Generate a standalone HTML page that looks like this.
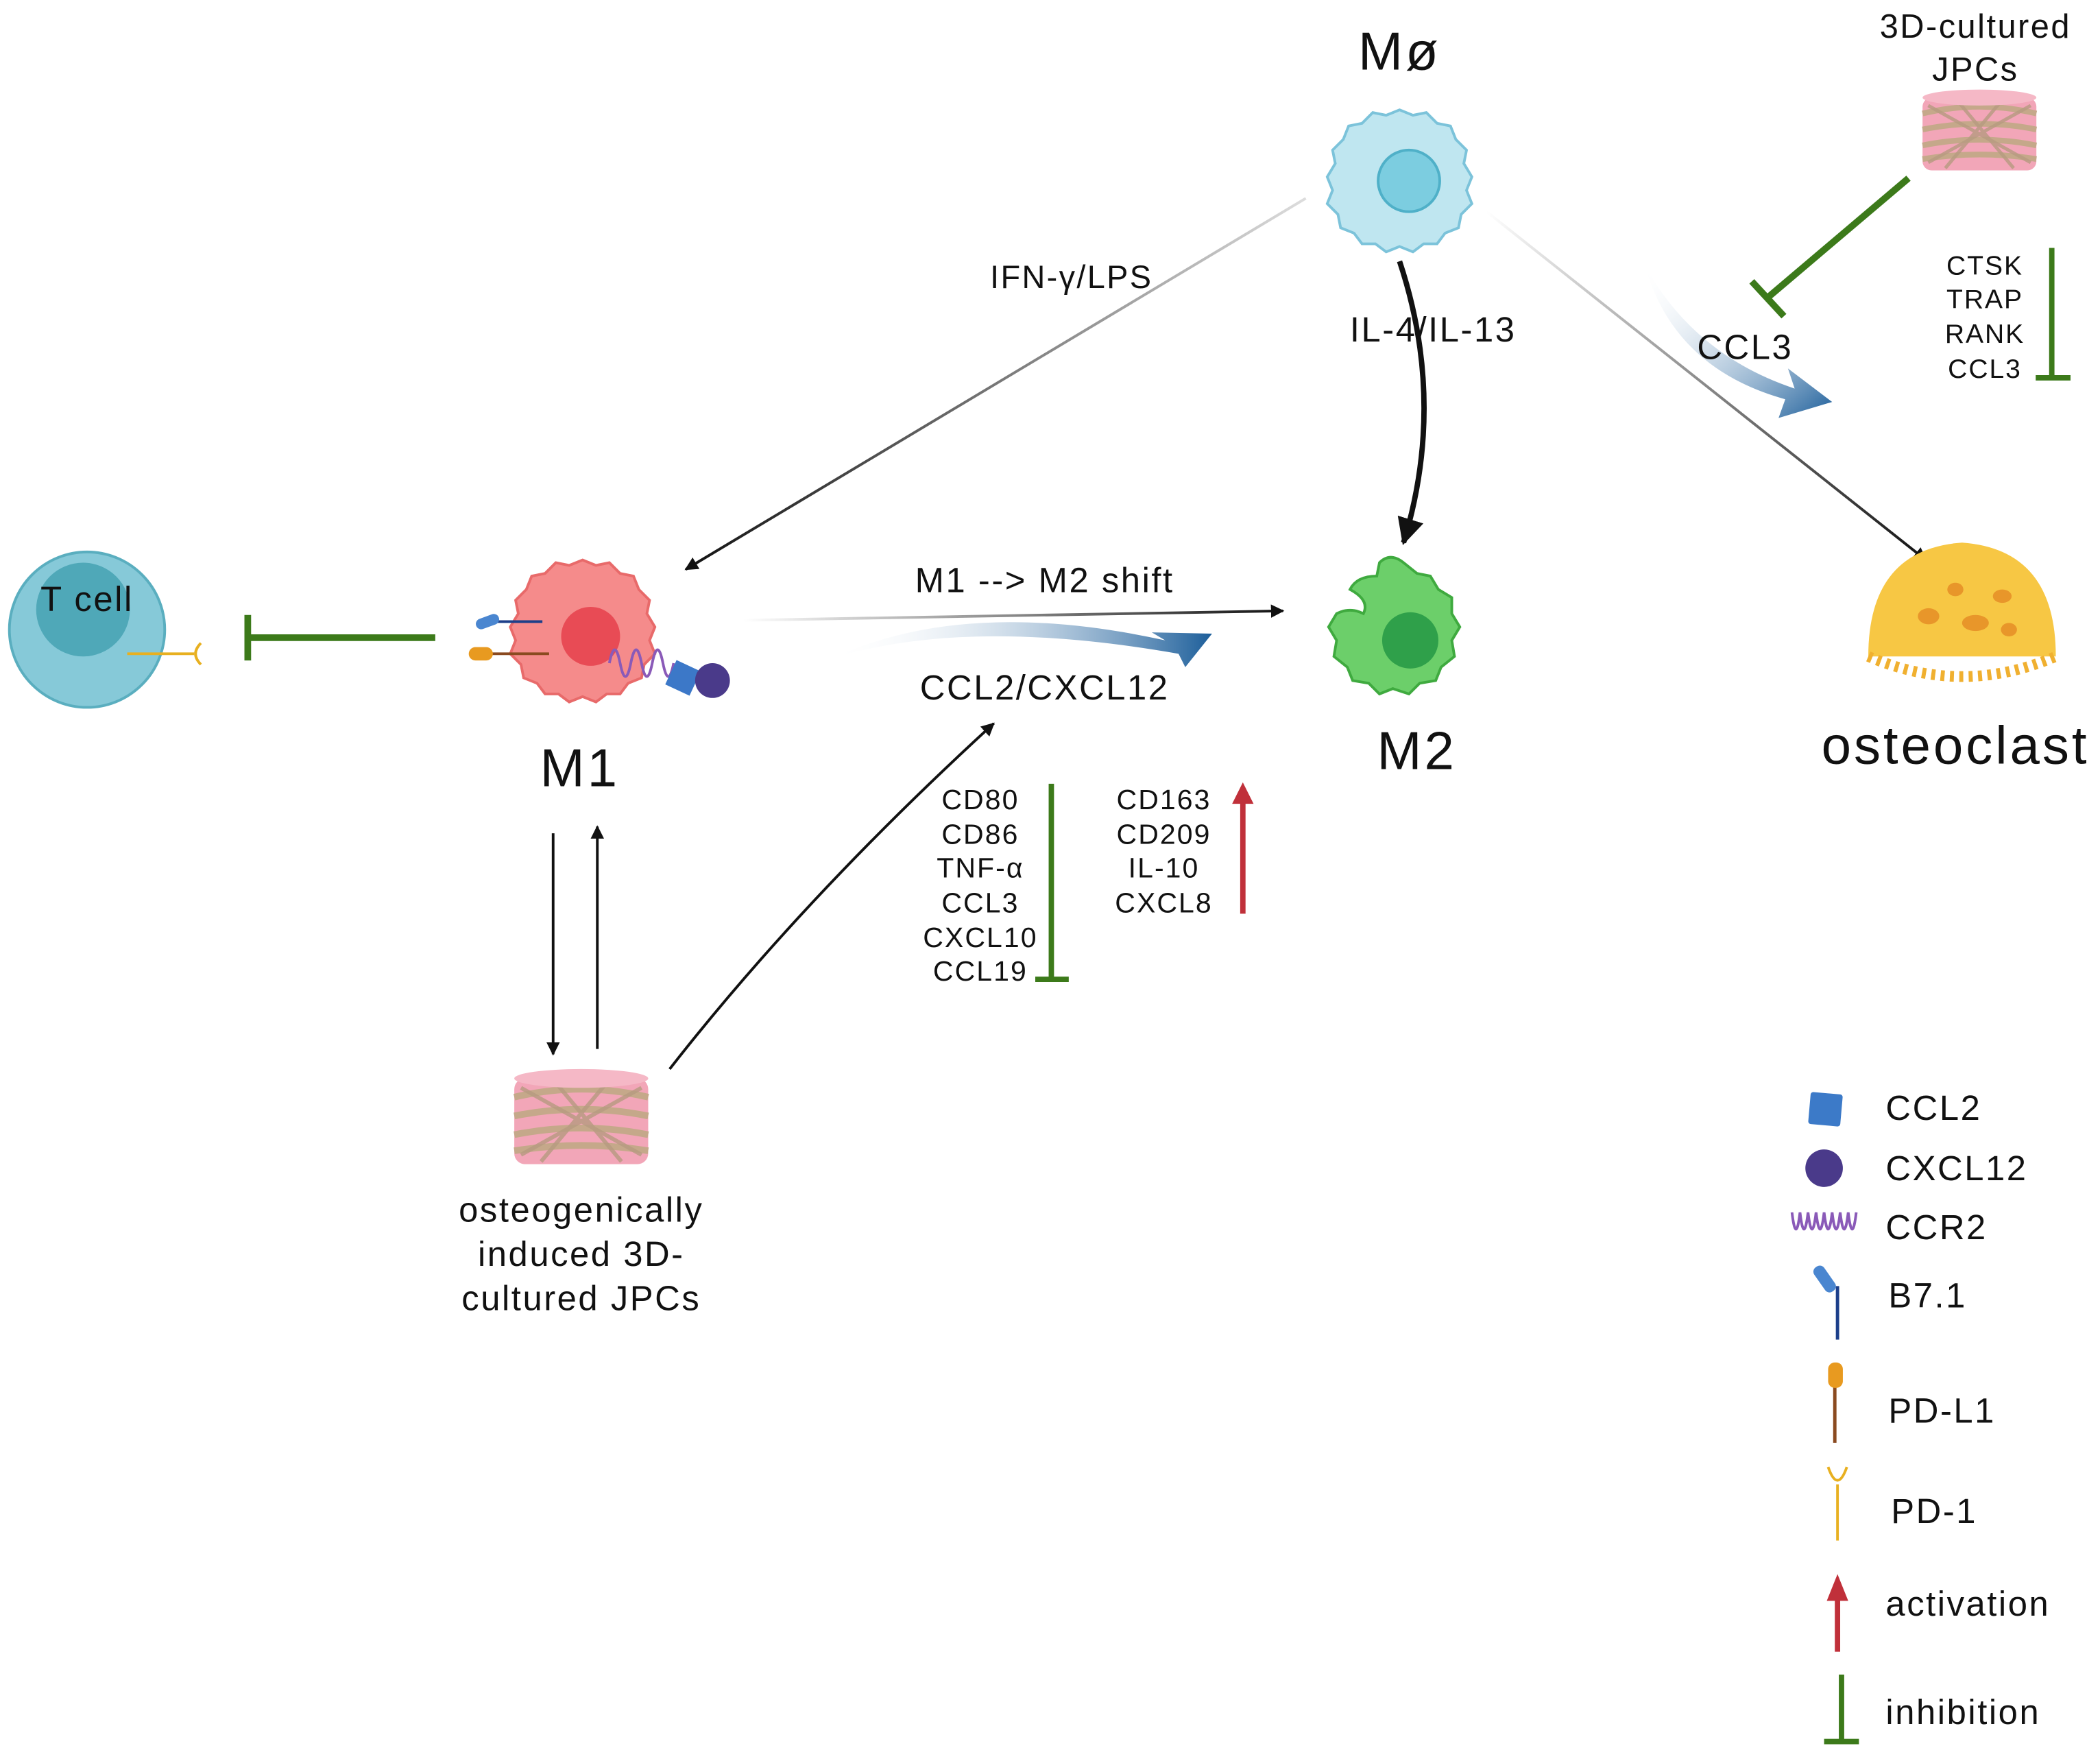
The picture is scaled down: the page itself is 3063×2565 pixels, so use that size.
<!DOCTYPE html>
<html><head><meta charset="utf-8"><style>
html,body{margin:0;padding:0;background:#fff;}
svg{display:block;}
text{font-family:"Liberation Sans",sans-serif;fill:#111;letter-spacing:0.05em;}
</style></head><body>
<svg width="3063" height="2565" viewBox="0 0 1568 1313" xmlns="http://www.w3.org/2000/svg">
<defs>
<marker id="ah" markerWidth="10" markerHeight="10" refX="9" refY="5" orient="auto" markerUnits="userSpaceOnUse"><path d="M0,0 L10,5 L0,10 z" fill="#111"/></marker>
<marker id="ahb" markerWidth="20" markerHeight="20" refX="18" refY="10" orient="auto" markerUnits="userSpaceOnUse"><path d="M0,0 L20,10 L0,20 z" fill="#111"/></marker>
<linearGradient id="bg1" x1="0" x2="1" y1="0" y2="0"><stop offset="0" stop-color="#fff" stop-opacity="0"/><stop offset="1" stop-color="#1c5e9a"/></linearGradient>
<linearGradient id="bg2" x1="0" x2="1" y1="0" y2="1"><stop offset="0" stop-color="#fff" stop-opacity="0"/><stop offset="1" stop-color="#1c5e9a"/></linearGradient>
<linearGradient id="ln" x1="0" x2="1"><stop offset="0" stop-color="#fff"/><stop offset="1" stop-color="#111"/></linearGradient>
<linearGradient id="lnIFN" gradientUnits="userSpaceOnUse" x1="975" y1="148" x2="512" y2="425"><stop offset="0" stop-color="#ddd"/><stop offset="1" stop-color="#111"/></linearGradient>
<g id="scaf">
<rect x="-50" y="-32" width="100" height="64" rx="8" fill="#f2a6b8"/>
<path d="M-50,-18 Q0,-30 50,-18 M-50,-4 Q0,-14 50,-4 M-50,10 Q0,0 50,10 M-50,22 Q0,14 50,22" stroke="#c5a88a" stroke-width="5" fill="none"/>
<path d="M-45,-25 L45,25 M-45,25 L45,-25 M-20,-30 L30,30 M20,-30 L-30,30" stroke="#b59a80" stroke-width="3" fill="none" opacity="0.8"/>
<ellipse cx="0" cy="-32" rx="50" ry="7" fill="#f5b8c6"/>
</g>
</defs>

<text x="1045" y="52" font-size="40" text-anchor="middle">Mø</text>
<path d="M1045,82 l10,4 l10,-2 l8,8 l10,2 l4,10 l8,8 l-2,10 l6,10 l-4,10 l4,10 l-8,8 l-2,10 l-10,4 l-6,8 l-10,0 l-8,6 l-10,-4 l-10,4 l-8,-6 l-10,0 l-6,-8 l-10,-4 l-2,-10 l-8,-8 l4,-10 l-4,-10 l6,-10 l-2,-10 l8,-8 l4,-10 l10,-2 l8,-8 l10,2 z" fill="#bfe6f0" stroke="#7cc3da" stroke-width="2"/>
<circle cx="1052" cy="135" r="23" fill="#7ccde0" stroke="#4fb0c8" stroke-width="2"/>

<text x="1475" y="28" font-size="25" text-anchor="middle">3D-cultured</text>
<text x="1475" y="60" font-size="25" text-anchor="middle">JPCs</text>
<use href="#scaf" transform="translate(1478,100) scale(0.85)"/>
<line x1="1425" y1="133" x2="1320" y2="222" stroke="#3c7a1a" stroke-width="5"/>
<line x1="1308" y1="210" x2="1332" y2="236" stroke="#3c7a1a" stroke-width="5"/>
<text font-size="20" text-anchor="middle"><tspan x="1482" y="205">CTSK</tspan><tspan x="1482" y="230">TRAP</tspan><tspan x="1482" y="256">RANK</tspan><tspan x="1482" y="282">CCL3</tspan></text>
<line x1="1532" y1="185" x2="1532" y2="282" stroke="#3c7a1a" stroke-width="4"/>
<line x1="1520" y1="282" x2="1546" y2="282" stroke="#3c7a1a" stroke-width="4"/>

<path d="M1228,198 Q1265,265 1340,290 L1335,275 L1368,300 L1328,312 L1333,298 Q1250,275 1228,198 z" fill="url(#bg2)"/>
<text x="1303" y="268" font-size="26" text-anchor="middle">CCL3</text>

<line x1="1110" y1="158" x2="1438" y2="418" stroke="url(#ln)" stroke-width="2" marker-end="url(#ah)"/>
<path d="M1395,490 Q1395,410 1465,405 Q1535,410 1535,490 Z" fill="#f7c744"/>
<path d="M1395,490 Q1465,520 1535,490" stroke="#f0b030" stroke-width="8" fill="none" stroke-dasharray="3 4"/>
<ellipse cx="1440" cy="460" rx="8" ry="6" fill="#e8962a"/><ellipse cx="1475" cy="465" rx="10" ry="6" fill="#e8962a"/><ellipse cx="1495" cy="445" rx="7" ry="5" fill="#e8962a"/><ellipse cx="1460" cy="440" rx="6" ry="5" fill="#e8962a"/><ellipse cx="1500" cy="470" rx="6" ry="5" fill="#e8962a"/>
<text x="1460" y="570" font-size="40" text-anchor="middle">osteoclast</text>

<text x="800" y="215" font-size="24" text-anchor="middle">IFN-γ/LPS</text>
<path d="M975,148 L512,425" stroke="url(#lnIFN)" stroke-width="2" fill="none" marker-end="url(#ah)"/>
<text x="1070" y="255" font-size="26" text-anchor="middle">IL-4/IL-13</text>
<path d="M1045,195 Q1080,300 1048,405" stroke="#111" stroke-width="4" fill="none" marker-end="url(#ahb)"/>

<path d="M1030,420 q8,-8 18,0 l10,8 l10,2 l6,10 l10,6 l0,12 l6,10 l-6,10 l2,12 l-10,8 l-4,10 l-12,2 l-8,8 l-12,-4 l-10,4 l-8,-8 l-12,-2 l-4,-10 l-10,-8 l2,-12 l-6,-10 l6,-10 q10,-5 20,0 q5,-10 -10,-18 q5,-10 20,-10 z" fill="#6ccf6a" stroke="#3faa3f" stroke-width="2"/>
<circle cx="1053" cy="478" r="21" fill="#2fa04a"/>
<text x="1058" y="574" font-size="40" text-anchor="middle">M2</text>

<path d="M435,418 l10,4 l10,-2 l8,8 l10,2 l4,10 l8,8 l-2,10 l6,10 l-4,10 l4,10 l-8,8 l-2,10 l-10,4 l-6,8 l-10,0 l-8,6 l-10,-4 l-10,4 l-8,-6 l-10,0 l-6,-8 l-10,-4 l-2,-10 l-8,-8 l4,-10 l-4,-10 l6,-10 l-2,-10 l8,-8 l4,-10 l10,-2 l8,-8 l10,2 z" fill="#f58b8b" stroke="#e86a6a" stroke-width="2"/>
<circle cx="441" cy="475" r="22" fill="#e84b55"/>
<line x1="370" y1="464" x2="405" y2="464" stroke="#1c3f8a" stroke-width="2"/><rect x="355" y="460" width="18" height="8" rx="4" fill="#4a86d0" transform="rotate(-20 364 464)"/>
<line x1="365" y1="488" x2="410" y2="488" stroke="#8a4a20" stroke-width="2"/><rect x="350" y="483" width="18" height="10" rx="5" fill="#e89a20"/>
<path d="M455,495 q4,-20 8,0 q4,20 8,0 q4,-20 8,0 q4,20 8,0 q4,-20 8,0 q4,20 8,0" stroke="#8a5ab8" stroke-width="2" fill="none"/>
<rect x="500" y="496" width="20" height="20" fill="#3c78c8" transform="rotate(25 510 506)"/>
<circle cx="532" cy="508" r="13" fill="#4a3a8a"/>
<text x="433" y="587" font-size="40" text-anchor="middle">M1</text>

<text x="780" y="442" font-size="26" text-anchor="middle">M1 --&gt; M2 shift</text>
<line x1="555" y1="463" x2="958" y2="456" stroke="url(#ln)" stroke-width="2" marker-end="url(#ah)"/>
<path d="M620,492 Q720,445 870,478 L860,472 L905,473 L885,498 L880,488 Q720,460 620,492 z" fill="url(#bg1)"/>
<text x="780" y="522" font-size="26" text-anchor="middle">CCL2/CXCL12</text>

<circle cx="65" cy="470" r="58" fill="#86c9d8" stroke="#5aaebf" stroke-width="2"/>
<circle cx="62" cy="455" r="35" fill="#4fa8b8"/>
<text x="65" y="456" font-size="26" text-anchor="middle">T cell</text>
<line x1="95" y1="488" x2="145" y2="488" stroke="#e8b020" stroke-width="2"/>
<path d="M150,480 q-8,8 0,16" stroke="#e8b020" stroke-width="2" fill="none"/>
<line x1="325" y1="476" x2="185" y2="476" stroke="#3c7a1a" stroke-width="5"/>
<line x1="185" y1="459" x2="185" y2="493" stroke="#3c7a1a" stroke-width="5"/>

<line x1="413" y1="622" x2="413" y2="787" stroke="#111" stroke-width="2" marker-end="url(#ah)"/>
<line x1="446" y1="783" x2="446" y2="617" stroke="#111" stroke-width="2" marker-end="url(#ah)"/>
<use href="#scaf" transform="translate(434,837)"/>
<text font-size="26" text-anchor="middle"><tspan x="434" y="912">osteogenically</tspan><tspan x="434" y="945">induced 3D-</tspan><tspan x="434" y="978">cultured JPCs</tspan></text>
<path d="M500,798 Q600,670 742,540" stroke="#111" stroke-width="2" fill="none" marker-end="url(#ah)"/>

<text font-size="21" text-anchor="middle"><tspan x="732" y="604">CD80</tspan><tspan x="732" y="630">CD86</tspan><tspan x="732" y="655">TNF-α</tspan><tspan x="732" y="681">CCL3</tspan><tspan x="732" y="707">CXCL10</tspan><tspan x="732" y="732">CCL19</tspan></text>
<line x1="785" y1="585" x2="785" y2="731" stroke="#3c7a1a" stroke-width="4"/>
<line x1="773" y1="731" x2="798" y2="731" stroke="#3c7a1a" stroke-width="4"/>
<text font-size="21" text-anchor="middle"><tspan x="869" y="604">CD163</tspan><tspan x="869" y="630">CD209</tspan><tspan x="869" y="655">IL-10</tspan><tspan x="869" y="681">CXCL8</tspan></text>
<line x1="928" y1="682" x2="928" y2="598" stroke="#c0303a" stroke-width="4"/>
<path d="M920,600 L928,584 L936,600 z" fill="#c0303a"/>

<rect x="1351" y="816" width="24" height="24" rx="2" fill="#3c7ac8" transform="rotate(5 1363 828)"/>
<text x="1408" y="836" font-size="26">CCL2</text>
<circle cx="1362" cy="872" r="14" fill="#4a3a8a"/>
<text x="1408" y="881" font-size="26">CXCL12</text>
<path d="M1338,905 q3,25 6,0 q3,25 6,0 q3,25 6,0 q3,25 6,0 q3,25 6,0 q3,25 6,0 q3,25 6,0 q3,25 6,0" stroke="#8a5ab8" stroke-width="2" fill="none"/>
<text x="1408" y="925" font-size="26">CCR2</text>
<line x1="1372" y1="960" x2="1372" y2="1000" stroke="#1c3f8a" stroke-width="2.5"/>
<rect x="1358" y="944" width="9" height="22" rx="4" fill="#4a86d0" transform="rotate(-35 1362 955)"/>
<text x="1410" y="976" font-size="26">B7.1</text>
<line x1="1370" y1="1032" x2="1370" y2="1077" stroke="#8a4a20" stroke-width="2.5"/>
<rect x="1365" y="1017" width="11" height="19" rx="5" fill="#e89a20"/>
<text x="1410" y="1062" font-size="26">PD-L1</text>
<line x1="1372" y1="1108" x2="1372" y2="1150" stroke="#e8b020" stroke-width="2"/>
<path d="M1365,1095 q7,20 14,0" stroke="#e8b020" stroke-width="2" fill="none"/>
<text x="1412" y="1137" font-size="26">PD-1</text>
<line x1="1372" y1="1233" x2="1372" y2="1192" stroke="#c0303a" stroke-width="4"/>
<path d="M1364,1195 L1372,1175 L1380,1195 z" fill="#c0303a"/>
<text x="1408" y="1206" font-size="26">activation</text>
<line x1="1375" y1="1250" x2="1375" y2="1300" stroke="#3c7a1a" stroke-width="4"/>
<line x1="1362" y1="1300" x2="1388" y2="1300" stroke="#3c7a1a" stroke-width="4"/>
<text x="1408" y="1287" font-size="26">inhibition</text>
</svg>
</body></html>
